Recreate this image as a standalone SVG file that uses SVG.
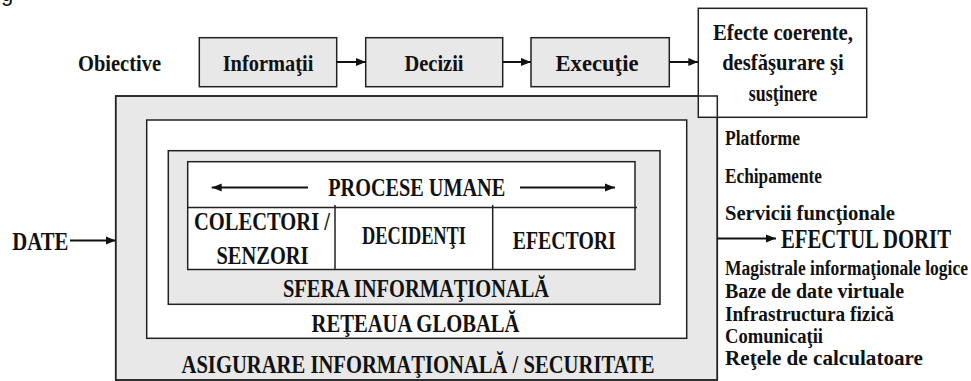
<svg xmlns="http://www.w3.org/2000/svg" width="971" height="381" viewBox="0 0 971 381">
<defs>
<marker id="ah" viewBox="0 0 10 10" refX="10" refY="5" markerWidth="10" markerHeight="10" markerUnits="userSpaceOnUse" orient="auto">
<path d="M0,1 L10,5 L0,9 Z" fill="#111"/>
</marker>
<style>
.t{font-family:"Liberation Serif","Times New Roman",serif;font-weight:bold;fill:#111;}
.c{text-anchor:middle;}
.gray{fill:#e8e8e8;stroke:#222;stroke-width:1.5;}
.white{fill:#fff;stroke:#222;stroke-width:1.5;}
.ln{fill:none;stroke:#222;stroke-width:1.5;}
.ar{fill:none;stroke:#111;stroke-width:2;marker-end:url(#ah);}
.s20{font-size:20px;}
.s23{font-size:23px;}
.s26{font-size:26px;}
.s27{font-size:27px;}
</style>
</defs>
<rect width="971" height="381" fill="#fff"/>
<text x="1" y="0.5" font-family="Liberation Sans, Arial, sans-serif" font-size="22" fill="#111">g</text>

<g id="asigurare">
<rect class="gray" x="115.7" y="96" width="601.6" height="284"/>
<text class="t c s26" x="418" y="373" textLength="473" lengthAdjust="spacingAndGlyphs">ASIGURARE INFORMAŢIONALĂ / SECURITATE</text>
</g>
<g id="efecte">
<rect class="white" x="698.3" y="8.3" width="168.4" height="109"/>
<text class="t c s23" x="783" y="39.5" textLength="140" lengthAdjust="spacingAndGlyphs">Efecte coerente,</text>
<text class="t c s23" x="783" y="70" textLength="121.7" lengthAdjust="spacingAndGlyphs">desfăşurare şi</text>
<text class="t c s23" x="783" y="101" textLength="68.3" lengthAdjust="spacingAndGlyphs">susţinere</text>
</g>
<rect class="ln" x="115.7" y="96" width="601.6" height="284"/>

<g id="retea">
<rect class="white" x="146.7" y="120" width="540" height="218.3"/>
<text class="t c s26" x="415.5" y="331.5" textLength="208" lengthAdjust="spacingAndGlyphs">REŢEAUA GLOBALĂ</text>
</g>
<g id="sfera">
<rect class="gray" x="168.3" y="150.7" width="491.7" height="153.6"/>
<text class="t c s26" x="416" y="297" textLength="266" lengthAdjust="spacingAndGlyphs">SFERA INFORMAŢIONALĂ</text>
</g>
<g id="procese">
<rect class="white" x="187.7" y="161.7" width="447.3" height="107.8"/>
<line class="ln" x1="187.7" y1="207.5" x2="637" y2="207.5"/>
<line class="ln" x1="335" y1="205" x2="335" y2="269.5"/>
<line class="ln" x1="492.7" y1="205" x2="492.7" y2="269.5"/>
<line class="ar" x1="308" y1="187.5" x2="211.7" y2="187.5"/>
<line class="ar" x1="520" y1="187.5" x2="615" y2="187.5"/>
<text class="t c s26" x="416.7" y="196" textLength="177" lengthAdjust="spacingAndGlyphs">PROCESE UMANE</text>
</g>
<g id="colectori">
<text class="t c s26" x="262" y="230" textLength="136" lengthAdjust="spacingAndGlyphs">COLECTORI /</text>
<text class="t c s26" x="262.5" y="264" textLength="92" lengthAdjust="spacingAndGlyphs">SENZORI</text>
</g>
<g id="decidenti">
<text class="t c s26" x="414" y="244.3" textLength="104" lengthAdjust="spacingAndGlyphs">DECIDENŢI</text>
</g>
<g id="efectori">
<text class="t c s26" x="564.3" y="249" textLength="103" lengthAdjust="spacingAndGlyphs">EFECTORI</text>
</g>

<g id="obiective">
<text class="t s23" x="78" y="70.5" textLength="83" lengthAdjust="spacingAndGlyphs">Obiective</text>
</g>
<g id="informatii">
<rect class="gray" x="199.3" y="37.7" width="137.4" height="49"/>
<text class="t c s23" x="268" y="70.5" textLength="90.7" lengthAdjust="spacingAndGlyphs">Informaţii</text>
</g>
<g id="decizii">
<rect class="gray" x="365.7" y="37.7" width="137" height="49"/>
<text class="t c s23" x="434" y="70.5" textLength="59" lengthAdjust="spacingAndGlyphs">Decizii</text>
</g>
<g id="executie">
<rect class="gray" x="531" y="37.7" width="138.3" height="49"/>
<text class="t c s23" x="597" y="70.5" textLength="83" lengthAdjust="spacingAndGlyphs">Execuţie</text>
</g>

<g id="date">
<text class="t s26" x="12.3" y="249.5" textLength="56" lengthAdjust="spacingAndGlyphs">DATE</text>
</g>
<g id="efectul">
<text class="t s27" x="781" y="248.3" textLength="170" lengthAdjust="spacingAndGlyphs">EFECTUL DORIT</text>
</g>
<g id="lista">
<text class="t s20" x="725" y="145" textLength="75" lengthAdjust="spacingAndGlyphs">Platforme</text>
<text class="t s20" x="725" y="183" textLength="97" lengthAdjust="spacingAndGlyphs">Echipamente</text>
<text class="t s20" x="725" y="220" textLength="170" lengthAdjust="spacingAndGlyphs">Servicii funcţionale</text>
<text class="t s20" x="725" y="275" textLength="243" lengthAdjust="spacingAndGlyphs">Magistrale informaţionale logice</text>
<text class="t s20" x="725" y="298" textLength="179" lengthAdjust="spacingAndGlyphs">Baze de date virtuale</text>
<text class="t s20" x="725" y="320.5" textLength="169" lengthAdjust="spacingAndGlyphs">Infrastructura fizică</text>
<text class="t s20" x="725" y="342.5" textLength="98" lengthAdjust="spacingAndGlyphs">Comunicaţii</text>
<text class="t s20" x="725" y="365" textLength="198" lengthAdjust="spacingAndGlyphs">Reţele de calculatoare</text>
</g>

<g id="connectors">
<line class="ar" x1="336.7" y1="62" x2="365.7" y2="62"/>
<line class="ar" x1="502.7" y1="62" x2="531" y2="62"/>
<line class="ar" x1="669.3" y1="62" x2="698.3" y2="62"/>
<line class="ar" x1="70" y1="240.5" x2="115.7" y2="240.5"/>
<line class="ar" x1="717.3" y1="238.5" x2="776" y2="238.5"/>
</g>
</svg>
